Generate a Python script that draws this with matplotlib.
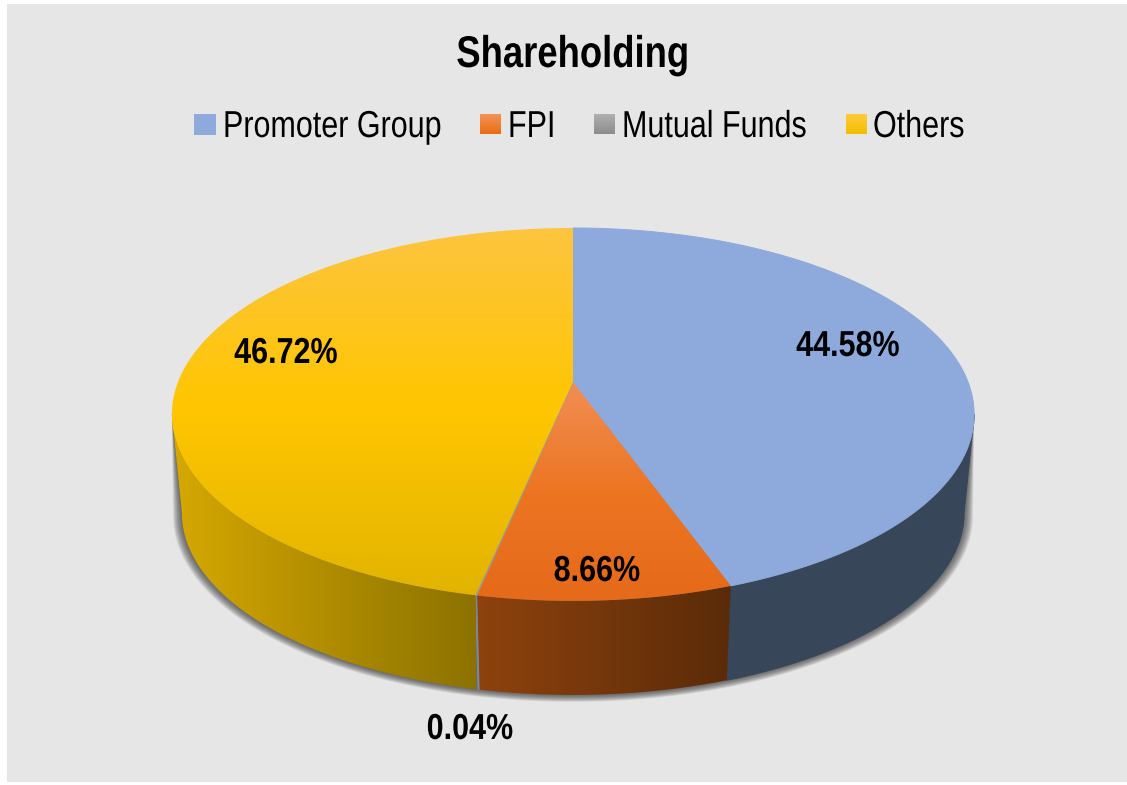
import numpy as np
import matplotlib
matplotlib.use("Agg")
import matplotlib.pyplot as plt
from matplotlib.colors import LinearSegmentedColormap
from matplotlib.patches import Polygon, Rectangle
from matplotlib.patheffects import AbstractPathEffect
from matplotlib.transforms import Affine2D

# donnees
labels = ["Promoter Group", "FPI", "Mutual Funds", "Others"]
shares = [44.58, 8.66, 0.04, 46.72]

# couleurs : dessus (haut -> bas), cote (gauche -> droite), legende
top_colors = [["#8EA9DB", "#8EA9DB"], ["#F18E54", "#EC7522", "#E56A1A"], ["#9A9A9A", "#9A9A9A"], ["#FDC440", "#FFC600", "#E2B400"]]
wall_colors = [["#374659", "#374659"], ["#8E420D", "#5A2B09"], ["#7F8790", "#7F8790"], ["#D6A800", "#8C7200"]]
swatch_colors = [["#8EA9DB", "#8EA9DB"], ["#F4935A", "#E96C12"], ["#B0B0B0", "#8C8C8C"], ["#FFCB3C", "#F2BE00"]]

# positions des textes (ligne de base)
label_pos = [(848, 356), (597, 581), (470, 739), (286, 363)]
swatch_x = [194, 480, 594, 846]
legend_x = [223, 508, 622, 873]

FONT = "Liberation Sans"
# angles ou le bord du disque est le plus a droite / a gauche
BORD_D, BORD_G = 100.0, 260.0


class Etroit(AbstractPathEffect):
    # resserre le texte en largeur autour de x0 (pas de police etroite installee)
    def __init__(self, x0, sx):
        super().__init__()
        self.x0 = x0
        self.sx = sx

    def draw_path(self, renderer, gc, tpath, affine, rgbFace=None):
        serre = Affine2D().translate(-self.x0, 0).scale(self.sx, 1).translate(self.x0, 0)
        renderer.draw_path(gc, tpath, affine + serre, rgbFace)


fig = plt.figure(figsize=(11.27, 7.85), dpi=100, facecolor="white")
ax = fig.add_axes([0, 0, 1, 1])
ax.axis("off")
ax.add_patch(Rectangle((7, 4), 1120, 778, fc="#E6E6E6", ec="none", zorder=0))


def projete(theta, echelle=1.0, y0=382.0, x0=573.0):
    # disque vu en perspective, theta en degres depuis le haut, sens horaire
    k = 0.174
    u = np.sin(np.radians(theta))
    v = np.cos(np.radians(theta))
    d = 1 + k * v
    return x0 + echelle * 395 * u / d, y0 - echelle * 180.8 * v / d


def degrade(couleurs, extent, pts, vertical=True, zorder=2):
    # une couleur unie : polygone simple, sinon image decoupee par le polygone
    if couleurs[0] == couleurs[-1]:
        ax.add_patch(Polygon(pts, fc=couleurs[0], ec=couleurs[0], lw=0.7, zorder=zorder))
        return
    cmap = LinearSegmentedColormap.from_list("g", couleurs)
    a = np.linspace(0, 1, 256)
    a = a.reshape(-1, 1) if vertical else a.reshape(1, -1)
    im = ax.imshow(a, cmap=cmap, extent=extent, aspect="auto", origin="upper", zorder=zorder, interpolation="bilinear")
    patch = Polygon(pts, fc="none", ec="none", transform=ax.transData)
    ax.add_patch(patch)
    im.set_clip_path(patch)


# ombre sous le camembert
t = np.linspace(BORD_D, BORD_G, 300)
xd, yd = projete(BORD_D)
xg, yg = projete(BORD_G)
for e in np.linspace(0.997, 0.975, 10):
    sx, sy = projete(t, e, y0=481.5 + (e - 0.975) * 95)
    pts = np.r_[[[xd, yd]], np.c_[sx, sy], [[xg, yg]]]
    ax.add_patch(Polygon(pts, fc="#2B2B2B", ec="none", alpha=0.1, zorder=1))

bornes = np.cumsum([0] + shares) * 3.6

# cotes (seulement la partie vue de face)
for i in range(len(shares)):
    t = np.linspace(max(bornes[i], BORD_D), min(bornes[i + 1], BORD_G), 200)
    x1, y1 = projete(t)
    x2, y2 = projete(t, 0.975, y0=481.5)
    pts = np.r_[np.c_[x1, y1], np.c_[x2, y2][::-1]]
    left, right = x1.min(), x1.max()
    degrade(wall_colors[i], (left, max(right, left + 1), 720, 300), pts, vertical=False, zorder=2)

# dessus
xa, ya = projete(0.0, 0.0)
for i in range(len(shares)):
    t = np.linspace(bornes[i], bornes[i + 1], 200)
    x1, y1 = projete(t)
    pts = np.r_[[[xa, ya]], np.c_[x1, y1]]
    degrade(top_colors[i], (160, 990, pts[:, 1].max(), pts[:, 1].min()), pts, vertical=True, zorder=3)

# textes
ax.text(573, 67, "Shareholding", family=FONT, fontsize=32, fontweight="bold", ha="center", va="baseline", zorder=5,
        path_effects=[Etroit(573, 0.82)])
for i, nom in enumerate(labels):
    carre = np.array([[swatch_x[i], 114], [swatch_x[i] + 21, 114], [swatch_x[i] + 21, 134], [swatch_x[i], 134]])
    degrade(swatch_colors[i], (swatch_x[i], swatch_x[i] + 21, 134, 114), carre, zorder=4)
    ax.text(legend_x[i], 137, nom, family=FONT, fontsize=27, ha="left", va="baseline", zorder=5,
            path_effects=[Etroit(legend_x[i], 0.813)])
    px, py = label_pos[i]
    ax.text(px, py, f"{shares[i]:.2f}%", family=FONT, fontsize=26, fontweight="bold", ha="center", va="baseline", zorder=5,
            path_effects=[Etroit(px, 0.845)])

ax.set_xlim(0, 1127)
ax.set_ylim(785, 0)
fig.savefig("out.png", dpi=100)
